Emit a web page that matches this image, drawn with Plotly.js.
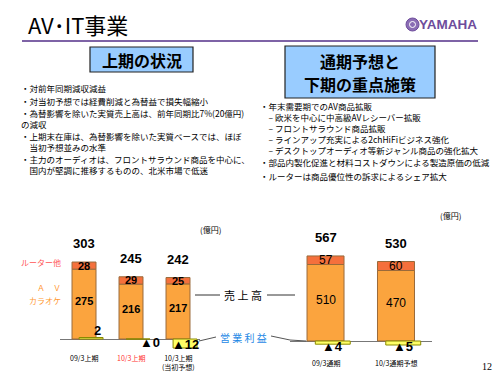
<!DOCTYPE html>
<html>
<head>
<meta charset="utf-8">
<script src="https://cdn.plot.ly/plotly-3.0.1.min.js"></script>
<style>html,body{margin:0;padding:0;background:#fff;}#chart{width:500px;height:375px;}</style>
</head>
<body>
<div id="chart"></div>
<script>
// ---- data ----
const catsHalf = ['09/3上期', '10/3上期', '10/3上期<br>(当初予想)'];
const avHalf = [275, 216, 217];
const routerHalf = [28, 29, 25];
const totalHalf = [303, 245, 242];
const opHalf = [2, 0, -12];

const catsFull = ['09/3通期', '10/3通期予想'];
const avFull = [510, 470];
const routerFull = [57, 60];
const totalFull = [567, 530];
const opFull = [-4, -5];

const leftBullets = [
  ['・対前年同期減収減益'],
  ['・対当初予想では経費削減と為替益で損失幅縮小'],
  ['・為替影響を除いた実質売上高は、前年同期比7%(20億円)', 'の減収'],
  ['・上期末在庫は、為替影響を除いた実質ベースでは、ほぼ', '　当初予想並みの水準'],
  ['・主力のオーディオは、フロントサラウンド商品を中心に、', '　国内が堅調に推移するものの、北米市場で低迷']
];
const rightBullets = [
  ['・年末需要期でのAV商品拡販',
   '　– 欧米を中心に中高級AVレシーバー拡販',
   '　– フロントサラウンド商品拡販',
   '　– ラインアップ充実による2chHiFiビジネス強化',
   '　– デスクトップオーディオ等新ジャンル商品の強化拡大'],
  ['・部品内製化促進と材料コストダウンによる製造原価の低減'],
  ['・ルーターは商品優位性の訴求によるシェア拡大']
];

// ---- styling helpers ----
const W = 500, H = 375;
const X = p => p / W;
const Y = p => 1 - p / H;
const JP = '"Noto Sans CJK JP", sans-serif';
const AR = 'Arial, "Liberation Sans", "Noto Sans CJK JP", sans-serif';
const AV_COLOR = '#FBA43E', RT_COLOR = '#F5703C', OP_COLOR = '#FFFF66';
const BAR_LINE = {color: '#9A6A3A', width: 1};
const catColorsHalf = ['#000', '#FF3333', '#000'];

const idxH = catsHalf.map((_, i) => i);
const idxF = catsFull.map((_, i) => i);

const wH = 0.51, opOffH = -0.105;
const wF = 0.525, opWF = 0.496, opOffF = -0.145;

const traces = [
  {type: 'bar', x: idxH, y: avHalf, xaxis: 'x', yaxis: 'y', width: wH,
   marker: {color: AV_COLOR, line: BAR_LINE}},
  {type: 'bar', x: idxH, y: routerHalf, xaxis: 'x', yaxis: 'y', width: wH,
   marker: {color: RT_COLOR, line: BAR_LINE}},
  {type: 'bar', x: idxH, y: opHalf, xaxis: 'x', yaxis: 'y2', width: wH, offset: opOffH,
   marker: {color: OP_COLOR, line: {color: '#8A8A00', width: 1}}},
  {type: 'bar', x: idxF, y: avFull, xaxis: 'x2', yaxis: 'y3', width: wF,
   marker: {color: AV_COLOR, line: BAR_LINE}},
  {type: 'bar', x: idxF, y: routerFull, xaxis: 'x2', yaxis: 'y3', width: wF,
   marker: {color: RT_COLOR, line: BAR_LINE}},
  {type: 'bar', x: idxF, y: opFull, xaxis: 'x2', yaxis: 'y4', width: opWF, offset: opOffF,
   marker: {color: OP_COLOR, line: {color: '#8A8A00', width: 1}}}
];

const ann = [];
const txt = (text, px, py, opts) => ann.push(Object.assign({
  text, xref: 'paper', yref: 'paper', x: X(px), y: Y(py), xanchor: 'left', yanchor: 'middle',
  showarrow: false, font: {family: JP, size: 9, color: '#000'}
}, opts || {}));

// header
txt('AV･IT事業', 26, 24, {font: {family: JP, size: 22, color: '#000'}});
txt('<b>YAMAHA</b>', 479, 24, {xanchor: 'right', font: {family: AR, size: 13.5, color: '#6E4C9C'}});
txt('<b>上期の状況</b>', 141.5, 59.5, {xanchor: 'center', font: {family: JP, size: 16, color: '#000'}});
txt('<b>通期予想と</b>', 360, 61, {xanchor: 'center', font: {family: JP, size: 16, color: '#000'}});
txt('<b>下期の重点施策</b>', 360, 84, {xanchor: 'center', font: {family: JP, size: 16, color: '#000'}});

// bullets (each bullet one text block, first-line centre given)
const BF = 8.5;
const leftY = [86.5, 99, 111.5, 134.5, 157.5];
leftBullets.forEach((t, i) => txt(t.join('<br>'), 19, leftY[i] - 6.5,
  {yanchor: 'top', align: 'left', font: {family: JP, size: BF, color: '#000'}}));
const rightY = [105, 161, 174];
rightBullets.forEach((t, i) => txt(t.join('<br>'), 258, rightY[i] - 6.5,
  {yanchor: 'top', align: 'left', font: {family: JP, size: BF, color: '#000'}}));

// units
txt('(億円)', 210, 230, {xanchor: 'center', font: {family: JP, size: 8, color: '#000'}});
txt('(億円)', 450, 215, {xanchor: 'center', font: {family: JP, size: 8, color: '#000'}});

// series labels
txt('ルーター他', 63, 262, {xanchor: 'right', font: {family: JP, size: 8, color: '#FF5555'}});
txt('Ａ　Ｖ', 63, 287, {xanchor: 'right', font: {family: JP, size: 8, color: '#FF9933'}});
txt('カラオケ', 63, 300, {xanchor: 'right', font: {family: JP, size: 8, color: '#FF9933'}});

// 売上高 / 営業利益
txt('売 上 高', 243, 295, {xanchor: 'center', font: {family: JP, size: 11, color: '#000'}});
txt('営 業 利 益', 243, 337, {xanchor: 'center', font: {family: JP, size: 10, color: '#1E88E5'}});
txt('12', 487, 366, {xanchor: 'center', font: {family: '"Liberation Serif", serif', size: 10, color: '#000'}});

// data labels
const opText = v => v <= 0 ? '▲' + Math.abs(v) : String(v);
function chartLabels(cats, av, rt, tot, op, xr, yr, opyr, opOff, opW, segBold, segSize, catColors, catY) {
  cats.forEach((c, i) => {
    ann.push({xref: xr, yref: yr, x: i, y: tot[i], yanchor: 'bottom', yshift: 9, showarrow: false,
      text: '<b>' + tot[i] + '</b>', font: {family: AR, size: 13, color: '#000'}});
    const s = v => segBold ? '<b>' + v + '</b>' : String(v);
    ann.push({xref: xr, yref: yr, x: i, y: av[i] + rt[i] / 2, showarrow: false,
      text: s(rt[i]), font: {family: AR, size: segSize, color: '#000'}});
    ann.push({xref: xr, yref: yr, x: i, y: av[i] / 2, yshift: 3, showarrow: false,
      text: s(av[i]), font: {family: AR, size: segSize, color: '#000'}});
    const v = op[i];
    const base = {xref: xr, yref: opyr, showarrow: false, text: '<b>' + opText(v) + '</b>',
      font: {family: AR, size: 13, color: '#000'}};
    if (v > 0) {
      ann.push(Object.assign(base, {x: i + opOff + opW, y: v, xanchor: 'right', yanchor: 'bottom', yshift: -2}));
    } else if (v === 0) {
      ann.push(Object.assign(base, {x: i + opOff + opW / 2, y: 0, xanchor: 'left', yanchor: 'middle', yshift: -3}));
    } else {
      ann.push(Object.assign(base, {x: i + opOff + opW / 2, y: 0, xanchor: 'center', yanchor: 'middle', yshift: -5}));
    }
    ann.push({xref: xr, yref: 'paper', x: i, y: Y(catY), yanchor: 'top', showarrow: false,
      text: c, font: {family: JP, size: 7, color: catColors ? catColors[i] : '#000'}});
  });
}
chartLabels(catsHalf, avHalf, routerHalf, totalHalf, opHalf, 'x', 'y', 'y2', opOffH, wH, true, 11, catColorsHalf, 351);
chartLabels(catsFull, avFull, routerFull, totalFull, opFull, 'x2', 'y3', 'y4', opOffF, opWF, false, 12, null, 356);

const shapes = [
  {type: 'line', xref: 'paper', yref: 'paper', x0: X(22), x1: X(478), y0: Y(41), y1: Y(41), line: {color: '#7E63A6', width: 2}},
  {type: 'rect', xref: 'paper', yref: 'paper', x0: X(90), x1: X(193), y0: Y(72), y1: Y(47), fillcolor: '#99CCFF', line: {color: '#222', width: 1.2}},
  {type: 'rect', xref: 'paper', yref: 'paper', x0: X(285), x1: X(435), y0: Y(98), y1: Y(46), fillcolor: '#99CCFF', line: {color: '#222', width: 1.2}},
  {type: 'circle', xref: 'paper', yref: 'paper', x0: X(406), x1: X(419), y0: Y(31), y1: Y(18), fillcolor: '#8A6CB4', line: {color: '#6E4C9C', width: 1}},
  {type: 'circle', xref: 'paper', yref: 'paper', x0: X(409.5), x1: X(415.5), y0: Y(27.5), y1: Y(21.5), fillcolor: 'rgba(0,0,0,0)', line: {color: '#fff', width: 1}},
  {type: 'line', xref: 'paper', yref: 'paper', x0: X(195), x1: X(220), y0: Y(295), y1: Y(295), line: {color: '#333', width: 1}},
  {type: 'line', xref: 'paper', yref: 'paper', x0: X(267), x1: X(295), y0: Y(295), y1: Y(295), line: {color: '#333', width: 1}},
  {type: 'line', xref: 'paper', yref: 'paper', x0: X(216), x1: X(199), y0: Y(337), y1: Y(341), line: {color: '#555', width: 1}},
  {type: 'line', xref: 'paper', yref: 'paper', x0: X(271), x1: X(290), y0: Y(336), y1: Y(340), line: {color: '#555', width: 1}},
  {type: 'line', xref: 'paper', yref: 'paper', x0: X(290), x1: X(306), y0: Y(340), y1: Y(341), line: {color: '#555', width: 1}}
];

const hidden = {showgrid: false, showticklabels: false, ticks: '', showline: false, zeroline: false, fixedrange: true};
const layout = {
  width: W, height: H, margin: {l: 0, r: 0, t: 0, b: 0},
  paper_bgcolor: '#fff', plot_bgcolor: 'rgba(0,0,0,0)',
  barmode: 'relative', showlegend: false,
  xaxis: Object.assign({}, hidden, {domain: [X(60), X(200)], range: [-0.511, 2.468], anchor: 'y'}),
  yaxis: Object.assign({}, hidden, {domain: [0, 1], range: [-141.7, 1334.6], anchor: 'x',
    zeroline: true, zerolinecolor: '#777', zerolinewidth: 1}),
  yaxis2: Object.assign({}, hidden, {overlaying: 'y', range: [-48, 452], anchor: 'x'}),
  xaxis2: Object.assign({}, hidden, {domain: [X(290), X(432)], range: [-0.504, 1.511], anchor: 'y3'}),
  yaxis3: Object.assign({}, hidden, {domain: [0, 1], range: [-226.7, 2273.3], anchor: 'x2',
    zeroline: true, zerolinecolor: '#777', zerolinewidth: 1}),
  yaxis4: Object.assign({}, hidden, {overlaying: 'y3', range: [-42.5, 426.25], anchor: 'x2'}),
  annotations: ann,
  shapes: shapes
};

Plotly.newPlot('chart', traces, layout, {staticPlot: true, displayModeBar: false});
</script>
</body>
</html>
